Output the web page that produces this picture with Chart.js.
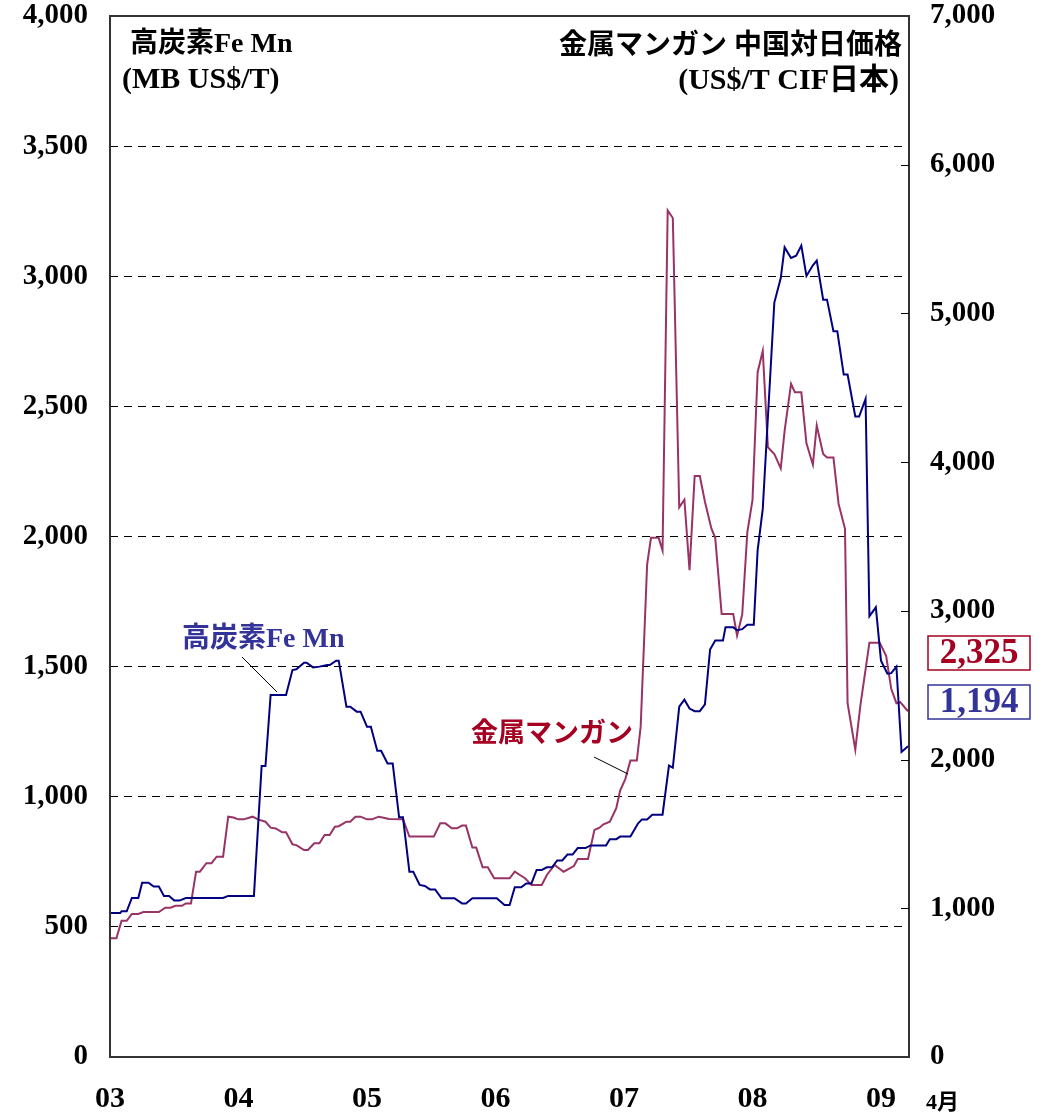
<!DOCTYPE html>
<html>
<head>
<meta charset="utf-8">
<script src="https://cdn.jsdelivr.net/npm/chart.js@4.4.0/dist/chart.umd.min.js"></script>
<style>
  html, body { margin: 0; padding: 0; background: #fff; }
  #wrap { width: 1043px; height: 1117px; }
</style>
</head>
<body>
<div id="wrap"><canvas id="feChart" width="1043" height="1117"></canvas></div>
<script>
// 高炭素Fe Mn (MB US$/T), left axis
const feMnYears = [2003.00, 2003.08, 2003.09, 2003.13, 2003.17, 2003.22, 2003.25, 2003.30, 2003.34, 2003.38,
  2003.42, 2003.46, 2003.50, 2003.54, 2003.59, 2003.88, 2003.92, 2004.12, 2004.18, 2004.21,
  2004.25, 2004.37, 2004.42, 2004.45, 2004.51, 2004.53, 2004.58, 2004.63, 2004.69, 2004.71,
  2004.76, 2004.78, 2004.84, 2004.87, 2004.92, 2004.95, 2005.00, 2005.03, 2005.08, 2005.11,
  2005.16, 2005.20, 2005.25, 2005.28, 2005.33, 2005.36, 2005.41, 2005.45, 2005.49, 2005.53,
  2005.58, 2005.68, 2005.74, 2005.77, 2005.82, 2006.01, 2006.07, 2006.11, 2006.15, 2006.20,
  2006.24, 2006.28, 2006.32, 2006.36, 2006.40, 2006.44, 2006.48, 2006.52, 2006.56, 2006.60,
  2006.64, 2006.70, 2006.74, 2006.86, 2006.89, 2006.94, 2006.97, 2007.05, 2007.11, 2007.14,
  2007.18, 2007.22, 2007.30, 2007.35, 2007.38, 2007.43, 2007.47, 2007.51, 2007.55, 2007.59,
  2007.63, 2007.67, 2007.71, 2007.77, 2007.79, 2007.85, 2007.88, 2007.92, 2007.96, 2008.01,
  2008.04, 2008.08, 2008.17, 2008.22, 2008.25, 2008.30, 2008.34, 2008.38, 2008.42, 2008.47,
  2008.50, 2008.55, 2008.58, 2008.63, 2008.66, 2008.71, 2008.74, 2008.80, 2008.83, 2008.88,
  2008.91, 2008.96, 2009.00, 2009.05, 2009.08, 2009.12, 2009.16, 2009.21];
const feMnPrice = [553, 553, 560, 560, 611, 611, 670, 670, 655, 655,
  619, 619, 601, 601, 611, 611, 619, 619, 1118, 1118,
  1391, 1391, 1487, 1490, 1515, 1515, 1497, 1500, 1506, 1506,
  1523, 1523, 1346, 1346, 1327, 1327, 1269, 1269, 1177, 1177,
  1128, 1128, 921, 921, 712, 712, 661, 657, 644, 644,
  610, 610, 590, 590, 610, 610, 584, 584, 652, 652,
  667, 667, 719, 719, 729, 729, 755, 755, 778, 778,
  803, 803, 813, 813, 837, 837, 847, 847, 898, 913,
  913, 931, 931, 1120, 1112, 1346, 1373, 1339, 1329, 1329,
  1355, 1566, 1600, 1600, 1651, 1651, 1640, 1644, 1661, 1661,
  1947, 2106, 2899, 2993, 3111, 3070, 3079, 3118, 3001, 3042,
  3060, 2910, 2910, 2789, 2789, 2622, 2622, 2461, 2461, 2529,
  1694, 1728, 1523, 1473, 1475, 1500, 1172, 1194];

// 金属マンガン 中国対日価格 (US$/T CIF日本), right axis
const mnYears = [2003.00, 2003.05, 2003.09, 2003.13, 2003.17, 2003.22, 2003.26, 2003.38, 2003.43, 2003.47,
  2003.51, 2003.56, 2003.59, 2003.63, 2003.67, 2003.70, 2003.75, 2003.79, 2003.83, 2003.88,
  2003.92, 2003.96, 2004.00, 2004.04, 2004.11, 2004.15, 2004.21, 2004.25, 2004.29, 2004.34,
  2004.37, 2004.42, 2004.45, 2004.51, 2004.54, 2004.59, 2004.63, 2004.67, 2004.71, 2004.75,
  2004.78, 2004.84, 2004.87, 2004.91, 2004.95, 2005.00, 2005.04, 2005.09, 2005.13, 2005.17,
  2005.28, 2005.33, 2005.52, 2005.57, 2005.61, 2005.66, 2005.70, 2005.74, 2005.77, 2005.82,
  2005.85, 2005.90, 2005.94, 2005.99, 2006.11, 2006.15, 2006.19, 2006.23, 2006.28, 2006.36,
  2006.40, 2006.46, 2006.53, 2006.57, 2006.61, 2006.64, 2006.72, 2006.77, 2006.81, 2006.84,
  2006.89, 2006.94, 2006.97, 2007.01, 2007.05, 2007.10, 2007.13, 2007.18, 2007.21, 2007.27,
  2007.30, 2007.34, 2007.38, 2007.43, 2007.47, 2007.51, 2007.55, 2007.59, 2007.63, 2007.68,
  2007.71, 2007.76, 2007.85, 2007.88, 2007.92, 2007.96, 2008.00, 2008.04, 2008.08, 2008.12,
  2008.17, 2008.22, 2008.25, 2008.30, 2008.33, 2008.38, 2008.42, 2008.47, 2008.50, 2008.55,
  2008.58, 2008.63, 2008.67, 2008.72, 2008.74, 2008.80, 2008.84, 2008.91, 2008.99, 2009.04,
  2009.08, 2009.12, 2009.15, 2009.21];
const mnPrice = [798, 798, 916, 916, 962, 962, 975, 975, 1004, 1004,
  1017, 1017, 1033, 1033, 1246, 1246, 1303, 1303, 1347, 1347,
  1616, 1610, 1598, 1598, 1616, 1598, 1582, 1542, 1537, 1511,
  1511, 1430, 1425, 1392, 1392, 1437, 1437, 1493, 1493, 1549,
  1552, 1582, 1582, 1616, 1616, 1598, 1598, 1616, 1609, 1600,
  1598, 1482, 1482, 1571, 1571, 1538, 1538, 1556, 1556, 1408,
  1408, 1276, 1276, 1202, 1202, 1246, 1224, 1202, 1157, 1157,
  1224, 1291, 1246, 1265, 1284, 1331, 1331, 1527, 1542, 1565,
  1582, 1673, 1791, 1869, 1993, 1993, 2223, 3311, 3491, 3491,
  3406, 5693, 5642, 3696, 3747, 3273, 3906, 3906, 3734, 3554,
  3491, 2979, 2979, 2833, 2975, 3530, 3745, 4605, 4748, 4100,
  4055, 3958, 4210, 4527, 4470, 4470, 4127, 3983, 4247, 4055,
  4031, 4031, 3719, 3552, 2379, 2067, 2366, 2786, 2786, 2697,
  2474, 2379, 2386, 2325];

const yearTicks = [2003, 2004, 2005, 2006, 2007, 2008, 2009];
const yearLabels = ["03", "04", "05", "06", "07", "08", "09"];

const SERIF = '"Liberation Serif", "Noto Sans CJK JP"';
const BLUE_LINE = "#000080";
const RED_LINE = "#993366";
const BLUE_TEXT = "#333399";
const RED_TEXT = "#a50021";

function toPoints(xs, ys) {
  return xs.map((x, i) => ({ x: x, y: ys[i] }));
}

function fmt(v) {
  return v.toLocaleString("en-US");
}

function noPad(s) {
  s.paddingTop = 0;
  s.paddingBottom = 0;
  s.paddingLeft = 0;
  s.paddingRight = 0;
}

const decorations = {
  id: "decorations",
  afterDraw(chart) {
    const ctx = chart.ctx;
    const a = chart.chartArea;
    const y2 = chart.scales.y2;
    ctx.save();

    // frame
    ctx.strokeStyle = "#333";
    ctx.lineWidth = 2;
    ctx.strokeRect(a.left, a.top, a.right - a.left, a.bottom - a.top);

    // inward ticks on right axis
    ctx.lineWidth = 1;
    ctx.strokeStyle = "#000";
    y2.ticks.forEach((t) => {
      if (t.value <= 0 || t.value >= 7000) return;
      const yy = Math.round(y2.getPixelForValue(t.value)) + 0.5;
      ctx.beginPath();
      ctx.moveTo(a.right - 8, yy);
      ctx.lineTo(a.right, yy);
      ctx.stroke();
    });

    // titles
    ctx.fillStyle = "#000";
    ctx.textBaseline = "middle";
    ctx.textAlign = "left";
    ctx.font = "bold 28px " + SERIF;
    ctx.fillText("高炭素Fe Mn", 130, 45);
    ctx.textAlign = "right";
    ctx.fillText("金属マンガン 中国対日価格", 902, 47);
    ctx.font = "bold 30px " + SERIF;
    ctx.textAlign = "left";
    ctx.fillText("(MB US$/T)", 122, 80);
    ctx.textAlign = "right";
    ctx.fillText("(US$/T CIF日本)", 899, 81);

    // series labels with leader lines
    ctx.textAlign = "left";
    ctx.font = "bold 28px " + SERIF;
    ctx.fillStyle = BLUE_TEXT;
    ctx.fillText("高炭素Fe Mn", 182, 640);
    ctx.font = "bold 27px " + SERIF;
    ctx.fillStyle = RED_TEXT;
    ctx.fillText("金属マンガン", 471, 735);
    ctx.strokeStyle = "#000";
    ctx.lineWidth = 1;
    ctx.beginPath();
    ctx.moveTo(242, 657);
    ctx.lineTo(277, 692);
    ctx.moveTo(594, 757);
    ctx.lineTo(628, 774);
    ctx.stroke();

    // month note
    ctx.fillStyle = "#000";
    ctx.font = "bold 22px " + SERIF;
    ctx.fillText("4月", 926, 1103);

    // latest value boxes
    const boxes = [
      { text: fmt(mnPrice[mnPrice.length - 1]), color: RED_TEXT, top: 636 },
      { text: fmt(feMnPrice[feMnPrice.length - 1]), color: BLUE_TEXT, top: 685 },
    ];
    ctx.textAlign = "center";
    ctx.font = "bold 35px " + SERIF;
    boxes.forEach((b) => {
      ctx.strokeStyle = b.color;
      ctx.lineWidth = 1.5;
      ctx.strokeRect(928, b.top, 102, 34);
      ctx.fillStyle = b.color;
      ctx.fillText(b.text, 979, b.top + 18);
    });
    ctx.restore();
  },
};

const tickFont = { family: SERIF, size: 29, weight: "bold" };

new Chart(document.getElementById("feChart").getContext("2d"), {
  type: "line",
  data: {
    datasets: [
      {
        label: "高炭素Fe Mn",
        data: toPoints(feMnYears, feMnPrice),
        yAxisID: "y",
        borderColor: BLUE_LINE,
        borderWidth: 2,
        pointRadius: 0,
        tension: 0,
      },
      {
        label: "金属マンガン",
        data: toPoints(mnYears, mnPrice),
        yAxisID: "y2",
        borderColor: RED_LINE,
        borderWidth: 2,
        pointRadius: 0,
        tension: 0,
      },
    ],
  },
  options: {
    responsive: false,
    animation: false,
    layout: { padding: { top: 16, left: 0, right: 0, bottom: 0 } },
    plugins: { legend: { display: false }, tooltip: { enabled: false } },
    scales: {
      x: {
        type: "linear",
        min: 2003,
        max: 2009.218,
        grid: { display: false },
        border: { display: false },
        afterBuildTicks: (s) => {
          s.ticks = yearTicks.map((v) => ({ value: v }));
        },
        afterFit: (s) => {
          s.height = 60;
          noPad(s);
        },
        ticks: {
          callback: (v) => yearLabels[yearTicks.indexOf(v)],
          font: { family: SERIF, size: 30, weight: "bold" },
          color: "#000",
          padding: 16,
          maxRotation: 0,
          autoSkip: false,
        },
      },
      y: {
        position: "left",
        min: 0,
        max: 4000,
        afterFit: (s) => {
          s.width = 110;
          noPad(s);
        },
        ticks: {
          stepSize: 500,
          callback: (v) => fmt(v),
          font: tickFont,
          color: "#000",
          padding: 22,
        },
        grid: {
          drawTicks: false,
          lineWidth: 1,
          color: (c) => (c.tick && c.tick.value > 0 && c.tick.value < 4000 ? "#000" : "rgba(0,0,0,0)"),
        },
        border: { display: false, dash: [8, 6] },
      },
      y2: {
        position: "right",
        min: 0,
        max: 7000,
        afterFit: (s) => {
          s.width = 134;
          noPad(s);
        },
        ticks: {
          stepSize: 1000,
          callback: (v) => fmt(v),
          font: tickFont,
          color: "#000",
          padding: 21,
        },
        grid: { display: false, drawTicks: false },
        border: { display: false },
      },
    },
  },
  plugins: [decorations],
});
</script>
</body>
</html>
